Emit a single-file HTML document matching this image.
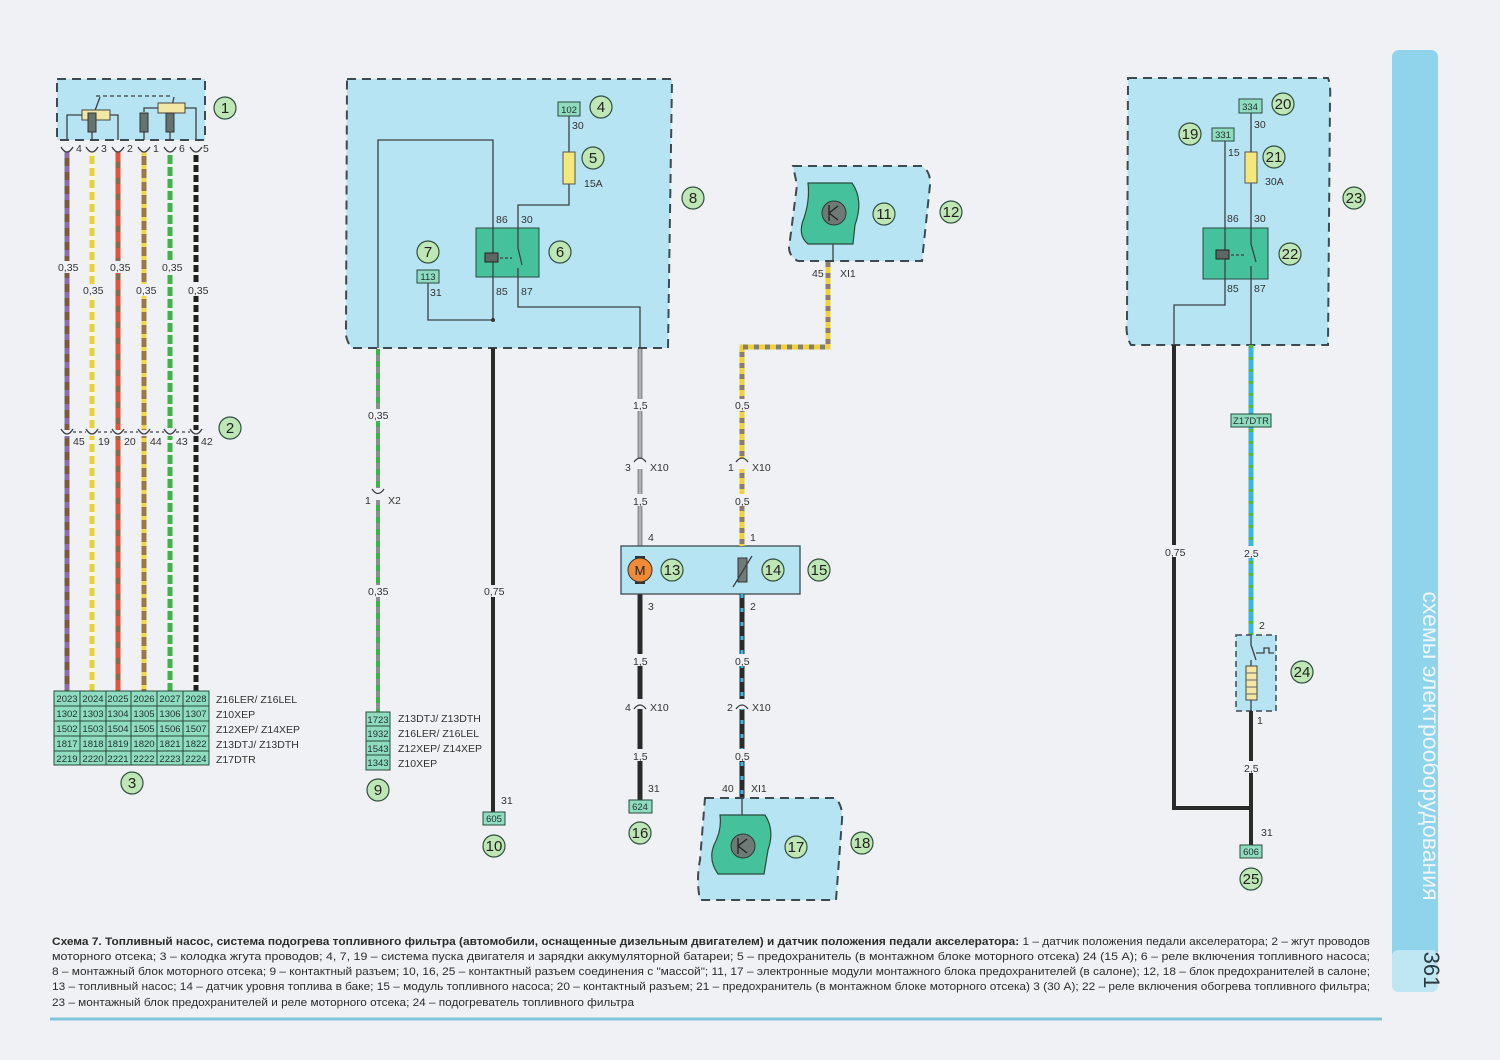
<!DOCTYPE html>
<html><head><meta charset="utf-8"><style>
html,body{margin:0;padding:0;background:#eff1f4;}
svg{display:block;font-family:"Liberation Sans","DejaVu Sans",sans-serif;}
.t{font-size:10.5px;fill:#333;}
.c{fill:#bfe6b5;stroke:#2f4f3f;stroke-width:1.2;}
.cn{font-size:15px;fill:#222;text-anchor:middle;}
.bx{fill:#8fdcc0;stroke:#2a4a3c;stroke-width:1;}
.bt{font-size:9.5px;fill:#233;text-anchor:middle;}
.zone{fill:#b7e4f3;stroke:#3c4a52;stroke-width:2;stroke-dasharray:9 6;}
.ln{stroke:#3c4046;stroke-width:1.3;fill:none;}
.cap{font-size:11px;fill:#2c2c2c;}
</style></head><body>
<svg width="1500" height="1060" viewBox="0 0 1500 1060" xmlns="http://www.w3.org/2000/svg">
<defs><style>circle.c{r:11px;}</style></defs>
<rect width="1500" height="1060" fill="#eff1f4"/>

<!-- ===== Block 1 ===== -->
<rect class="zone" x="57" y="79" width="148" height="61"/>
<g class="ln">
<path d="M67 140 V115 H82"/><path d="M110 115 H118 V140"/>
<path d="M92 140 V130"/>
<path d="M144 140 V130"/><path d="M144 112 V108 H158"/><path d="M185 108 H196 V140"/>
<path d="M170 140 V130"/>
<path d="M96 96 H170" stroke-dasharray="4 3"/>
<path d="M90 124 L100 97"/><path d="M168 124 L174 97"/>
</g>
<rect x="82" y="110" width="28" height="10" fill="#f3e7a6" stroke="#444"/>
<rect x="158" y="103" width="27" height="10" fill="#f3e7a6" stroke="#444"/>
<rect x="88" y="113" width="8" height="19" fill="#64736e" stroke="#333"/>
<rect x="140" y="113" width="8" height="19" fill="#64736e" stroke="#333"/>
<rect x="166" y="113" width="8" height="19" fill="#64736e" stroke="#333"/>
<circle class="c" cx="225" cy="108" r="11"/><text class="cn" x="225" y="113">1</text>

<g>
<line x1="67" y1="152" x2="67" y2="691" stroke="#7a5a44" stroke-width="5"/><line x1="67" y1="152" x2="67" y2="691" stroke="#8c6fa8" stroke-width="5" stroke-dasharray="6 8"/>
<line x1="92" y1="152" x2="92" y2="691" stroke="#e8d23a" stroke-width="5"/><line x1="92" y1="152" x2="92" y2="691" stroke="#fff8d0" stroke-width="5" stroke-dasharray="4 8"/>
<line x1="118" y1="152" x2="118" y2="691" stroke="#8b6a50" stroke-width="5"/><line x1="118" y1="152" x2="118" y2="691" stroke="#e0533c" stroke-width="5" stroke-dasharray="10 6"/>
<line x1="144" y1="152" x2="144" y2="691" stroke="#9a7a44" stroke-width="5"/><line x1="144" y1="152" x2="144" y2="691" stroke="#f0d84a" stroke-width="5" stroke-dasharray="4 9"/>
<line x1="170" y1="152" x2="170" y2="691" stroke="#3fb24a" stroke-width="5"/><line x1="170" y1="152" x2="170" y2="691" stroke="#f2f6ee" stroke-width="5" stroke-dasharray="3 9"/>
<line x1="196" y1="152" x2="196" y2="691" stroke="#1f1f1f" stroke-width="5"/><line x1="196" y1="152" x2="196" y2="691" stroke="#f4f4f4" stroke-width="5" stroke-dasharray="3 7"/>
</g>
<g fill="#eff1f4">
<rect x="60" y="142" width="145" height="10"/>
<rect x="60" y="430" width="145" height="6"/>
<rect x="58" y="261" width="18" height="12"/><rect x="110" y="261" width="18" height="12"/><rect x="162" y="261" width="18" height="12"/>
<rect x="83" y="284" width="18" height="12"/><rect x="136" y="284" width="18" height="12"/><rect x="188" y="284" width="18" height="12"/>
</g>
<g class="ln">
<path d="M61 147 Q67 157 73 147"/><path d="M86 147 Q92 157 98 147"/><path d="M112 147 Q118 157 124 147"/><path d="M138 147 Q144 157 150 147"/><path d="M164 147 Q170 157 176 147"/><path d="M190 147 Q196 157 202 147"/>
<path d="M61 429 Q67 439 73 429"/><path d="M86 429 Q92 439 98 429"/><path d="M112 429 Q118 439 124 429"/><path d="M138 429 Q144 439 150 429"/><path d="M164 429 Q170 439 176 429"/><path d="M190 429 Q196 439 202 429"/>
<path d="M73 432 H86 M98 432 H112 M124 432 H138 M150 432 H164 M176 432 H190" stroke-dasharray="3 3"/>
</g>
<g class="t">
<text x="76" y="152">4</text><text x="101" y="152">3</text><text x="127" y="152">2</text><text x="153" y="152">1</text><text x="179" y="152">6</text><text x="203" y="152">5</text>
<text x="58" y="271">0,35</text><text x="110" y="271">0,35</text><text x="162" y="271">0,35</text>
<text x="83" y="294">0,35</text><text x="136" y="294">0,35</text><text x="188" y="294">0,35</text>
<text x="73" y="445">45</text><text x="98" y="445">19</text><text x="124" y="445">20</text><text x="150" y="445">44</text><text x="176" y="445">43</text><text x="201" y="445">42</text>
</g>
<circle class="c" cx="230" cy="428" r="11"/><text class="cn" x="230" y="433">2</text>

<g>
<rect x="54" y="691" width="155" height="74" fill="#8fdcc0" stroke="#2a4a3c"/>
<g stroke="#2a4a3c" stroke-width="1">
<line x1="54" y1="706" x2="209" y2="706"/><line x1="54" y1="721" x2="209" y2="721"/><line x1="54" y1="736" x2="209" y2="736"/><line x1="54" y1="751" x2="209" y2="751"/>
<line x1="80" y1="691" x2="80" y2="765"/><line x1="106" y1="691" x2="106" y2="765"/><line x1="131" y1="691" x2="131" y2="765"/><line x1="157" y1="691" x2="157" y2="765"/><line x1="183" y1="691" x2="183" y2="765"/>
</g>
<g class="bt">
<text x="67" y="702">2023</text><text x="93" y="702">2024</text><text x="118" y="702">2025</text><text x="144" y="702">2026</text><text x="170" y="702">2027</text><text x="196" y="702">2028</text>
<text x="67" y="717">1302</text><text x="93" y="717">1303</text><text x="118" y="717">1304</text><text x="144" y="717">1305</text><text x="170" y="717">1306</text><text x="196" y="717">1307</text>
<text x="67" y="732">1502</text><text x="93" y="732">1503</text><text x="118" y="732">1504</text><text x="144" y="732">1505</text><text x="170" y="732">1506</text><text x="196" y="732">1507</text>
<text x="67" y="747">1817</text><text x="93" y="747">1818</text><text x="118" y="747">1819</text><text x="144" y="747">1820</text><text x="170" y="747">1821</text><text x="196" y="747">1822</text>
<text x="67" y="762">2219</text><text x="93" y="762">2220</text><text x="118" y="762">2221</text><text x="144" y="762">2222</text><text x="170" y="762">2223</text><text x="196" y="762">2224</text>
</g>
<g class="t"><text x="216" y="703">Z16LER/ Z16LEL</text><text x="216" y="718">Z10XEP</text><text x="216" y="733">Z12XEP/ Z14XEP</text><text x="216" y="748">Z13DTJ/ Z13DTH</text><text x="216" y="763">Z17DTR</text></g>
</g>
<circle class="c" cx="132" cy="783" r="11"/><text class="cn" x="132" y="788">3</text>

<!-- ===== Block 8 ===== -->
<path class="zone" d="M347 79 H672 L668 348 H352 Q345 340 346 330 Z"/>
<g class="ln">
<path d="M378 348 V140 H493 V320"/>
<path d="M569 116 V205 H518 V228"/>
<path d="M518 277 V307 H640 V348"/>
<path d="M428 283 V320 H493"/>
</g>
<circle cx="493" cy="320" r="2" fill="#333"/>
<rect x="558" y="102" width="22" height="14" class="bx"/><text class="bt" x="569" y="113">102</text>
<circle class="c" cx="601" cy="107" r="11"/><text class="cn" x="601" y="112">4</text>
<text class="t" x="572" y="129">30</text>
<rect x="563" y="152" width="12" height="32" fill="#f5e87a" stroke="#555"/>
<circle class="c" cx="593" cy="158" r="11"/><text class="cn" x="593" y="163">5</text>
<text class="t" x="584" y="187">15A</text>
<circle class="c" cx="693" cy="198" r="11"/><text class="cn" x="693" y="203">8</text>
<rect x="476" y="228" width="63" height="49" fill="#45c29b" stroke="#2a4a3c"/>
<line x1="493" y1="228" x2="493" y2="277" class="ln"/>
<rect x="485" y="253" width="13" height="9" fill="#5c6662" stroke="#222"/>
<path d="M500 258 H512" class="ln" stroke-dasharray="3 2"/>
<path d="M518 228 V248 L522 265 M518 268 V277" class="ln"/>
<g class="t"><text x="496" y="223">86</text><text x="521" y="223">30</text><text x="496" y="295">85</text><text x="521" y="295">87</text></g>
<circle class="c" cx="560" cy="252" r="11"/><text class="cn" x="560" y="257">6</text>
<circle class="c" cx="428" cy="252" r="11"/><text class="cn" x="428" y="257">7</text>
<rect x="417" y="270" width="22" height="13" class="bx"/><text class="bt" x="428" y="280">113</text>
<text class="t" x="430" y="296">31</text>

<line x1="378" y1="349" x2="378" y2="712" stroke="#8a8f8e" stroke-width="4"/><line x1="378" y1="349" x2="378" y2="712" stroke="#3fb24a" stroke-width="4" stroke-dasharray="6 6"/>
<rect x="368" y="409" width="22" height="12" fill="#eff1f4"/><text class="t" x="368" y="419">0,35</text>
<rect x="372" y="488" width="12" height="12" fill="#eff1f4"/>
<path class="ln" d="M372 489 Q378 498 384 489"/>
<text class="t" x="365" y="504">1</text><text class="t" x="388" y="504">X2</text>
<rect x="368" y="585" width="22" height="12" fill="#eff1f4"/><text class="t" x="368" y="595">0,35</text>
<rect x="366" y="712" width="24" height="58" fill="#8fdcc0" stroke="#2a4a3c"/>
<g stroke="#2a4a3c"><line x1="366" y1="726" x2="390" y2="726"/><line x1="366" y1="741" x2="390" y2="741"/><line x1="366" y1="755" x2="390" y2="755"/></g>
<g class="bt"><text x="378" y="723">1723</text><text x="378" y="737">1932</text><text x="378" y="752">1543</text><text x="378" y="766">1343</text></g>
<g class="t"><text x="398" y="722">Z13DTJ/ Z13DTH</text><text x="398" y="737">Z16LER/ Z16LEL</text><text x="398" y="752">Z12XEP/ Z14XEP</text><text x="398" y="767">Z10XEP</text></g>
<circle class="c" cx="378" cy="790" r="11"/><text class="cn" x="378" y="795">9</text>

<line x1="493" y1="348" x2="493" y2="812" stroke="#2a2a2a" stroke-width="4"/>
<rect x="483" y="585" width="22" height="12" fill="#eff1f4"/><text class="t" x="484" y="595">0,75</text>
<text class="t" x="501" y="804">31</text>
<rect x="483" y="812" width="22" height="13" class="bx"/><text class="bt" x="494" y="822">605</text>
<circle class="c" cx="494" cy="846" r="11"/><text class="cn" x="494" y="851">10</text>

<line x1="640" y1="349" x2="640" y2="546" stroke="#8d8f90" stroke-width="5"/><line x1="640" y1="349" x2="640" y2="546" stroke="#b0b3b3" stroke-width="2"/>
<rect x="630" y="399" width="22" height="12" fill="#eff1f4"/><text class="t" x="633" y="409">1,5</text>
<rect x="633" y="459" width="14" height="10" fill="#eff1f4"/><path class="ln" d="M634 462 Q640 454 646 462"/>
<text class="t" x="625" y="471">3</text><text class="t" x="650" y="471">X10</text>
<rect x="630" y="494" width="22" height="12" fill="#eff1f4"/><text class="t" x="633" y="505">1,5</text>
<text class="t" x="648" y="541">4</text>
<line x1="640" y1="594" x2="640" y2="800" stroke="#2a2a2a" stroke-width="5"/>
<text class="t" x="648" y="610">3</text>
<rect x="630" y="654" width="22" height="12" fill="#eff1f4"/><text class="t" x="633" y="665">1,5</text>
<rect x="633" y="699" width="14" height="10" fill="#eff1f4"/><path class="ln" d="M634 709 Q640 701 646 709"/>
<text class="t" x="625" y="711">4</text><text class="t" x="650" y="711">X10</text>
<rect x="630" y="749" width="22" height="12" fill="#eff1f4"/><text class="t" x="633" y="760">1,5</text>
<text class="t" x="648" y="792">31</text>
<rect x="629" y="800" width="23" height="13" class="bx"/><text class="bt" x="640" y="810">624</text>
<circle class="c" cx="640" cy="833" r="11"/><text class="cn" x="640" y="838">16</text>

<rect x="621" y="546" width="179" height="48" fill="#b7e4f3" stroke="#3c4a52" stroke-width="1.3"/>
<rect x="635" y="556" width="10" height="28" fill="#333"/>
<circle cx="640" cy="570" r="12" fill="#f08a34" stroke="#333"/>
<text x="640" y="575" font-size="13" text-anchor="middle" fill="#222">M</text>
<circle class="c" cx="672" cy="570" r="11"/><text class="cn" x="672" y="575">13</text>
<rect x="738" y="558" width="9" height="24" fill="#707a76" stroke="#333"/>
<path class="ln" d="M733 587 L752 556"/>
<circle class="c" cx="773" cy="570" r="11"/><text class="cn" x="773" y="575">14</text>
<circle class="c" cx="819" cy="570" r="11"/><text class="cn" x="819" y="575">15</text>

<path d="M828 262 V347 H742 V546" fill="none" stroke="#efd33a" stroke-width="5"/>
<path d="M828 262 V347 H742 V546" fill="none" stroke="#8a7e6a" stroke-width="5" stroke-dasharray="5 6"/>
<rect x="733" y="399" width="20" height="12" fill="#eff1f4"/><text class="t" x="735" y="409">0,5</text>
<rect x="735" y="459" width="14" height="10" fill="#eff1f4"/><path class="ln" d="M736 462 Q742 454 748 462"/>
<text class="t" x="728" y="471">1</text><text class="t" x="752" y="471">X10</text>
<rect x="733" y="494" width="20" height="12" fill="#eff1f4"/><text class="t" x="735" y="505">0,5</text>
<text class="t" x="750" y="541">1</text>
<line x1="742" y1="594" x2="742" y2="798" stroke="#2a2a2a" stroke-width="5"/>
<line x1="742" y1="594" x2="742" y2="798" stroke="#3ab7e0" stroke-width="3" stroke-dasharray="4 10"/>
<text class="t" x="750" y="610">2</text>
<rect x="733" y="654" width="20" height="12" fill="#eff1f4"/><text class="t" x="735" y="665">0,5</text>
<rect x="735" y="699" width="14" height="10" fill="#eff1f4"/><path class="ln" d="M736 709 Q742 701 748 709"/>
<text class="t" x="727" y="711">2</text><text class="t" x="752" y="711">X10</text>
<rect x="733" y="749" width="20" height="12" fill="#eff1f4"/><text class="t" x="735" y="760">0,5</text>
<text class="t" x="722" y="792">40</text><text class="t" x="751" y="792">XI1</text>

<path class="zone" d="M793 166 H922 Q931 172 930 185 L922 261 H798 Q786 255 790 240 L797 185 Z"/>
<path d="M808 183 H852 Q864 200 855 225 L853 244 H808 Q797 235 804 218 Q810 200 808 183 Z" fill="#45c29b" stroke="#2a4a3c" stroke-width="1.2"/>
<circle cx="834" cy="213" r="12" fill="#6f7a76" stroke="#2a3a34"/>
<path d="M829 205 V221 M829 213 L838 206 M829 213 L838 220" stroke="#222" stroke-width="1.3"/>
<line x1="833" y1="244" x2="833" y2="262" class="ln"/>
<circle class="c" cx="884" cy="214" r="11"/><text class="cn" x="884" y="219">11</text>
<circle class="c" cx="951" cy="212" r="11"/><text class="cn" x="951" y="217">12</text>
<text class="t" x="812" y="277">45</text><text class="t" x="840" y="277">XI1</text>

<path class="zone" d="M705 798 H835 Q843 805 842 820 L836 900 H700 Q696 880 700 860 Z"/>
<path d="M720 815 H765 Q775 830 768 850 L764 874 H718 Q708 860 714 845 Q722 830 720 815 Z" fill="#45c29b" stroke="#2a4a3c" stroke-width="1.2"/>
<circle cx="743" cy="846" r="12" fill="#6f7a76" stroke="#2a3a34"/>
<path d="M738 838 V854 M738 846 L747 839 M738 846 L747 853" stroke="#222" stroke-width="1.3"/>
<line x1="742" y1="798" x2="742" y2="815" class="ln"/>
<circle class="c" cx="796" cy="847" r="11"/><text class="cn" x="796" y="852">17</text>
<circle class="c" cx="862" cy="843" r="11"/><text class="cn" x="862" y="848">18</text>

<!-- ===== Block 23 ===== -->
<path class="zone" d="M1128 78 H1328 Q1331 85 1330 100 L1328 345 H1131 Q1125 335 1127 320 Z"/>
<g class="ln">
<path d="M1225 141 V305 H1174 V345"/>
<path d="M1251 113 V345"/>
</g>
<rect x="1239" y="99" width="23" height="14" class="bx"/><text class="bt" x="1250" y="110">334</text>
<circle class="c" cx="1283" cy="104" r="11"/><text class="cn" x="1283" y="109">20</text>
<text class="t" x="1254" y="128">30</text>
<rect x="1212" y="128" width="22" height="13" class="bx"/><text class="bt" x="1223" y="138">331</text>
<circle class="c" cx="1190" cy="134" r="11"/><text class="cn" x="1190" y="139">19</text>
<text class="t" x="1228" y="156">15</text>
<rect x="1245" y="152" width="12" height="31" fill="#f5e87a" stroke="#555"/>
<circle class="c" cx="1274" cy="157" r="11"/><text class="cn" x="1274" y="162">21</text>
<text class="t" x="1265" y="185">30A</text>
<circle class="c" cx="1354" cy="198" r="11"/><text class="cn" x="1354" y="203">23</text>
<rect x="1203" y="228" width="65" height="51" fill="#45c29b" stroke="#2a4a3c"/>
<line x1="1225" y1="228" x2="1225" y2="279" class="ln"/>
<rect x="1216" y="250" width="13" height="9" fill="#5c6662" stroke="#222"/>
<path d="M1231 255 H1245" class="ln" stroke-dasharray="3 2"/>
<path d="M1251 228 V244 L1256 262 M1251 266 V279" class="ln"/>
<g class="t"><text x="1227" y="222">86</text><text x="1254" y="222">30</text><text x="1227" y="292">85</text><text x="1254" y="292">87</text></g>
<circle class="c" cx="1290" cy="254" r="11"/><text class="cn" x="1290" y="259">22</text>

<line x1="1174" y1="345" x2="1174" y2="810" stroke="#2a2a2a" stroke-width="4"/>
<line x1="1251" y1="345" x2="1251" y2="636" stroke="#3ab7e0" stroke-width="5"/>
<line x1="1251" y1="345" x2="1251" y2="636" stroke="#4fb848" stroke-width="5" stroke-dasharray="3 9"/>
<rect x="1231" y="414" width="40" height="13" class="bx"/><text class="bt" x="1251" y="424">Z17DTR</text>
<rect x="1163" y="545" width="24" height="12" fill="#eff1f4"/><text class="t" x="1165" y="556">0,75</text>
<rect x="1242" y="546" width="20" height="12" fill="#eff1f4"/><text class="t" x="1244" y="557">2,5</text>
<text class="t" x="1259" y="629">2</text>
<rect x="1236" y="635" width="40" height="76" fill="#b7e4f3" stroke="#3c4a52" stroke-width="1.5" stroke-dasharray="6 4"/>
<path class="ln" d="M1251 636 V645 L1256 660 M1256 653 H1264 V648 H1269 V653 H1274"/>
<line x1="1251" y1="660" x2="1251" y2="711" class="ln"/>
<rect x="1246" y="666" width="11" height="34" fill="#f3e7a6" stroke="#444"/>
<g stroke="#666"><line x1="1246" y1="673" x2="1257" y2="673"/><line x1="1246" y1="680" x2="1257" y2="680"/><line x1="1246" y1="687" x2="1257" y2="687"/><line x1="1246" y1="694" x2="1257" y2="694"/></g>
<circle class="c" cx="1302" cy="672" r="11"/><text class="cn" x="1302" y="677">24</text>
<text class="t" x="1257" y="724">1</text>
<line x1="1251" y1="711" x2="1251" y2="846" stroke="#2a2a2a" stroke-width="4"/>
<path d="M1174 808 H1251" stroke="#2a2a2a" stroke-width="4" fill="none"/>
<rect x="1242" y="761" width="20" height="12" fill="#eff1f4"/><text class="t" x="1244" y="772">2,5</text>
<text class="t" x="1261" y="836">31</text>
<rect x="1240" y="845" width="22" height="13" class="bx"/><text class="bt" x="1251" y="855">606</text>
<circle class="c" cx="1251" cy="879" r="11"/><text class="cn" x="1251" y="884">25</text>

<!-- sidebar -->
<rect x="1392" y="50" width="46" height="940" rx="7" fill="#8fd4ea"/>
<rect x="1392" y="950" width="46" height="42" rx="6" fill="#bfe6f3"/>
<text transform="translate(1423,746) rotate(90)" font-size="23" fill="#eef6f9" text-anchor="middle">схемы электрооборудования</text>
<text transform="translate(1424,970) rotate(90)" font-size="22" fill="#2a3a40" text-anchor="middle">361</text>

<!-- caption -->
<g class="cap">
<text x="52" y="945" textLength="1318" lengthAdjust="spacingAndGlyphs"><tspan font-weight="bold">Схема 7. Топливный насос, система подогрева топливного фильтра (автомобили, оснащенные дизельным двигателем) и датчик положения педали акселератора:</tspan> 1 – датчик положения педали акселератора; 2 – жгут проводов</text>
<text x="52" y="960" textLength="1318" lengthAdjust="spacingAndGlyphs">моторного отсека; 3 – колодка жгута проводов; 4, 7, 19 – система пуска двигателя и зарядки аккумуляторной батареи; 5 – предохранитель (в монтажном блоке моторного отсека) 24 (15 А); 6 – реле включения топливного насоса;</text>
<text x="52" y="975" textLength="1318" lengthAdjust="spacingAndGlyphs">8 – монтажный блок моторного отсека; 9 – контактный разъем; 10, 16, 25 – контактный разъем соединения с "массой"; 11, 17 – электронные модули монтажного блока предохранителей (в салоне); 12, 18 – блок предохранителей в салоне;</text>
<text x="52" y="990" textLength="1318" lengthAdjust="spacingAndGlyphs">13 – топливный насос; 14 – датчик уровня топлива в баке; 15 – модуль топливного насоса; 20 – контактный разъем; 21 – предохранитель (в монтажном блоке моторного отсека) 3 (30 А); 22 – реле включения обогрева топливного фильтра;</text>
<text x="52" y="1006" textLength="582" lengthAdjust="spacingAndGlyphs">23 – монтажный блок предохранителей и реле моторного отсека; 24 – подогреватель топливного фильтра</text>
</g>
<line x1="50" y1="1019" x2="1382" y2="1019" stroke="#7fc6dc" stroke-width="3"/>
</svg>
</body></html>
